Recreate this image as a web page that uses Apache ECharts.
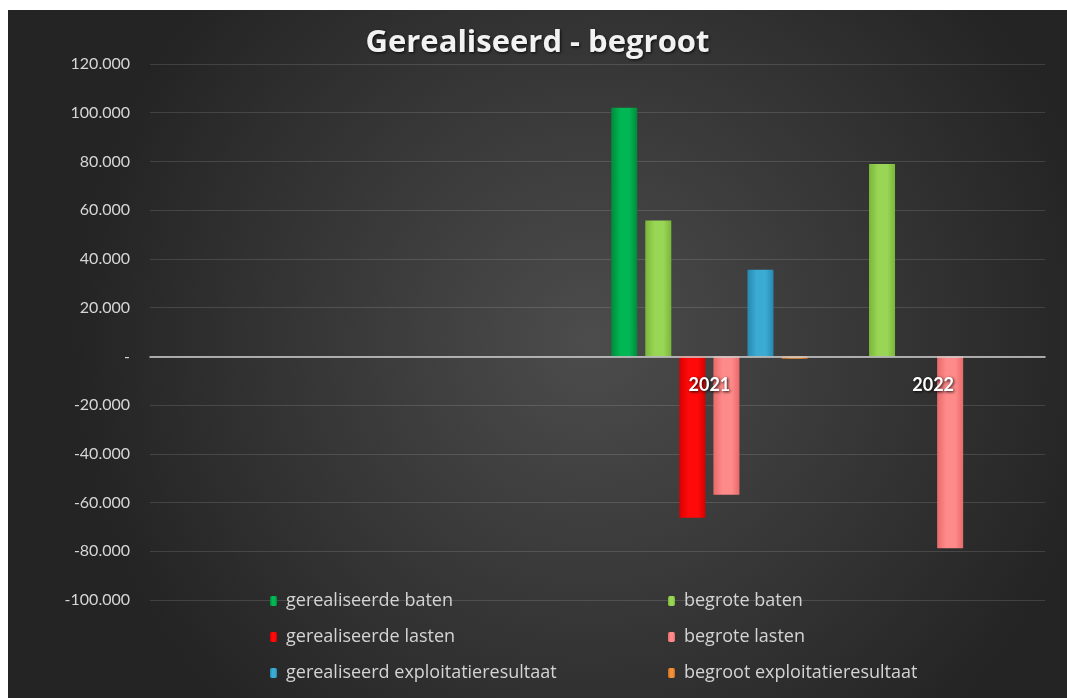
<!DOCTYPE html>
<html>
<head>
<meta charset="utf-8">
<script src="https://cdn.jsdelivr.net/npm/echarts@6/dist/echarts.min.js"></script>
<style>
  html, body { margin: 0; padding: 0; background: #ffffff; }
  #chart { position: absolute; left: 8px; top: 10px; width: 1059px; height: 688px; }
</style>
</head>
<body>
<div id="chart"></div>
<script>
// categorieën (de eerste twee jaren zonder label)
var categories = ['', '', '2021', '2022'];

var gerealiseerdeBaten = [null, null, 102000, null];
var begroteBaten = [null, null, 55800, 79000];
var gerealiseerdeLasten = [null, null, -66200, null];
var begroteLasten = [null, null, -56800, -78800];
var gerealiseerdResultaat = [null, null, 35500, null];
var begrootResultaat = [null, null, -1000, null];

var yMin = -100000, yMax = 120000, yStep = 20000;

var gridTop = 54, gridBottom = 98, chartHeight = 688;

function fmt(v) {
  if (v === 0) return '-';
  var s = Math.abs(v).toString().replace(/\B(?=(\d{3})+(?!\d))/g, '.');
  return (v < 0 ? '-' : '') + s;
}

function grad(edge, mid) {
  return new echarts.graphic.LinearGradient(0, 0, 1, 0, [
    { offset: 0, color: edge },
    { offset: 0.35, color: mid },
    { offset: 0.7, color: mid },
    { offset: 1, color: edge }
  ]);
}

function bar(name, data, edge, mid) {
  return {
    name: name,
    type: 'bar',
    data: data,
    barWidth: 26,
    barGap: '31%',
    itemStyle: { color: grad(edge, mid) }
  };
}

// x-as op de nullijn: afstand van onderkant plot tot nul
var plotH = chartHeight - gridTop - gridBottom;
var zeroOffset = -plotH * (0 - yMin) / (yMax - yMin);

var legendText = { fontFamily: 'Open Sans', fontSize: 18, color: '#d4d4d4', lineHeight: 20, padding: [0, 0, 0, 4] };

var myChart = echarts.init(document.getElementById('chart'));
var option = {
  backgroundColor: new echarts.graphic.RadialGradient(0.55, 0.48, 0.75, [
    { offset: 0, color: '#4c4c4c' },
    { offset: 1, color: '#242424' }
  ]),
  title: {
    text: 'Gerealiseerd - begroot',
    left: 'center',
    top: 13,
    textStyle: {
      fontFamily: 'Open Sans',
      fontSize: 31,
      fontWeight: 'bold',
      color: '#f2f2f2',
      textShadowColor: 'rgba(0,0,0,0.8)',
      textShadowBlur: 3,
      textShadowOffsetX: 1,
      textShadowOffsetY: 1
    }
  },
  legend: [{
    orient: 'vertical',
    left: 257,
    top: 576,
    itemWidth: 7,
    itemHeight: 10,
    itemGap: 16,
    textStyle: legendText,
    data: ['gerealiseerde baten', 'gerealiseerde lasten', 'gerealiseerd exploitatieresultaat']
  }, {
    orient: 'vertical',
    left: 655,
    top: 576,
    itemWidth: 7,
    itemHeight: 10,
    itemGap: 16,
    textStyle: legendText,
    data: ['begrote baten', 'begrote lasten', 'begroot exploitatieresultaat']
  }],
  grid: { left: 142, right: 22, top: gridTop, bottom: gridBottom },
  xAxis: {
    type: 'category',
    data: categories,
    offset: zeroOffset,
    axisLine: { onZero: false, lineStyle: { color: '#cfcfcf', width: 1.5 } },
    axisTick: { show: false },
    axisLabel: {
      margin: 20,
      fontFamily: 'Lato',
      fontSize: 18,
      fontWeight: 'bold',
      color: '#ffffff',
      textShadowColor: 'rgba(0,0,0,0.9)',
      textShadowBlur: 3,
      textShadowOffsetX: 1,
      textShadowOffsetY: 1
    },
    z: 10
  },
  yAxis: {
    type: 'value',
    min: yMin,
    max: yMax,
    interval: yStep,
    axisLine: { show: false },
    axisTick: { show: false },
    splitLine: { lineStyle: { color: 'rgba(255,255,255,0.13)', width: 1 } },
    axisLabel: {
      margin: 20,
      fontFamily: 'Lato',
      fontSize: 16,
      color: '#d6d6d6',
      formatter: fmt
    }
  },
  series: [
    bar('gerealiseerde baten', gerealiseerdeBaten, '#008a3c', '#00b753'),
    bar('begrote baten', begroteBaten, '#79b63a', '#9ad655'),
    bar('gerealiseerde lasten', gerealiseerdeLasten, '#d80000', '#ff0a0a'),
    bar('begrote lasten', begroteLasten, '#e86a6a', '#ff8a8a'),
    bar('gerealiseerd exploitatieresultaat', gerealiseerdResultaat, '#2788b0', '#3cabd4'),
    bar('begroot exploitatieresultaat', begrootResultaat, '#c86a20', '#f0913a')
  ]
};
myChart.setOption(option);
window.addEventListener('resize', function () {
  myChart.resize();
});
</script>
</body>
</html>
